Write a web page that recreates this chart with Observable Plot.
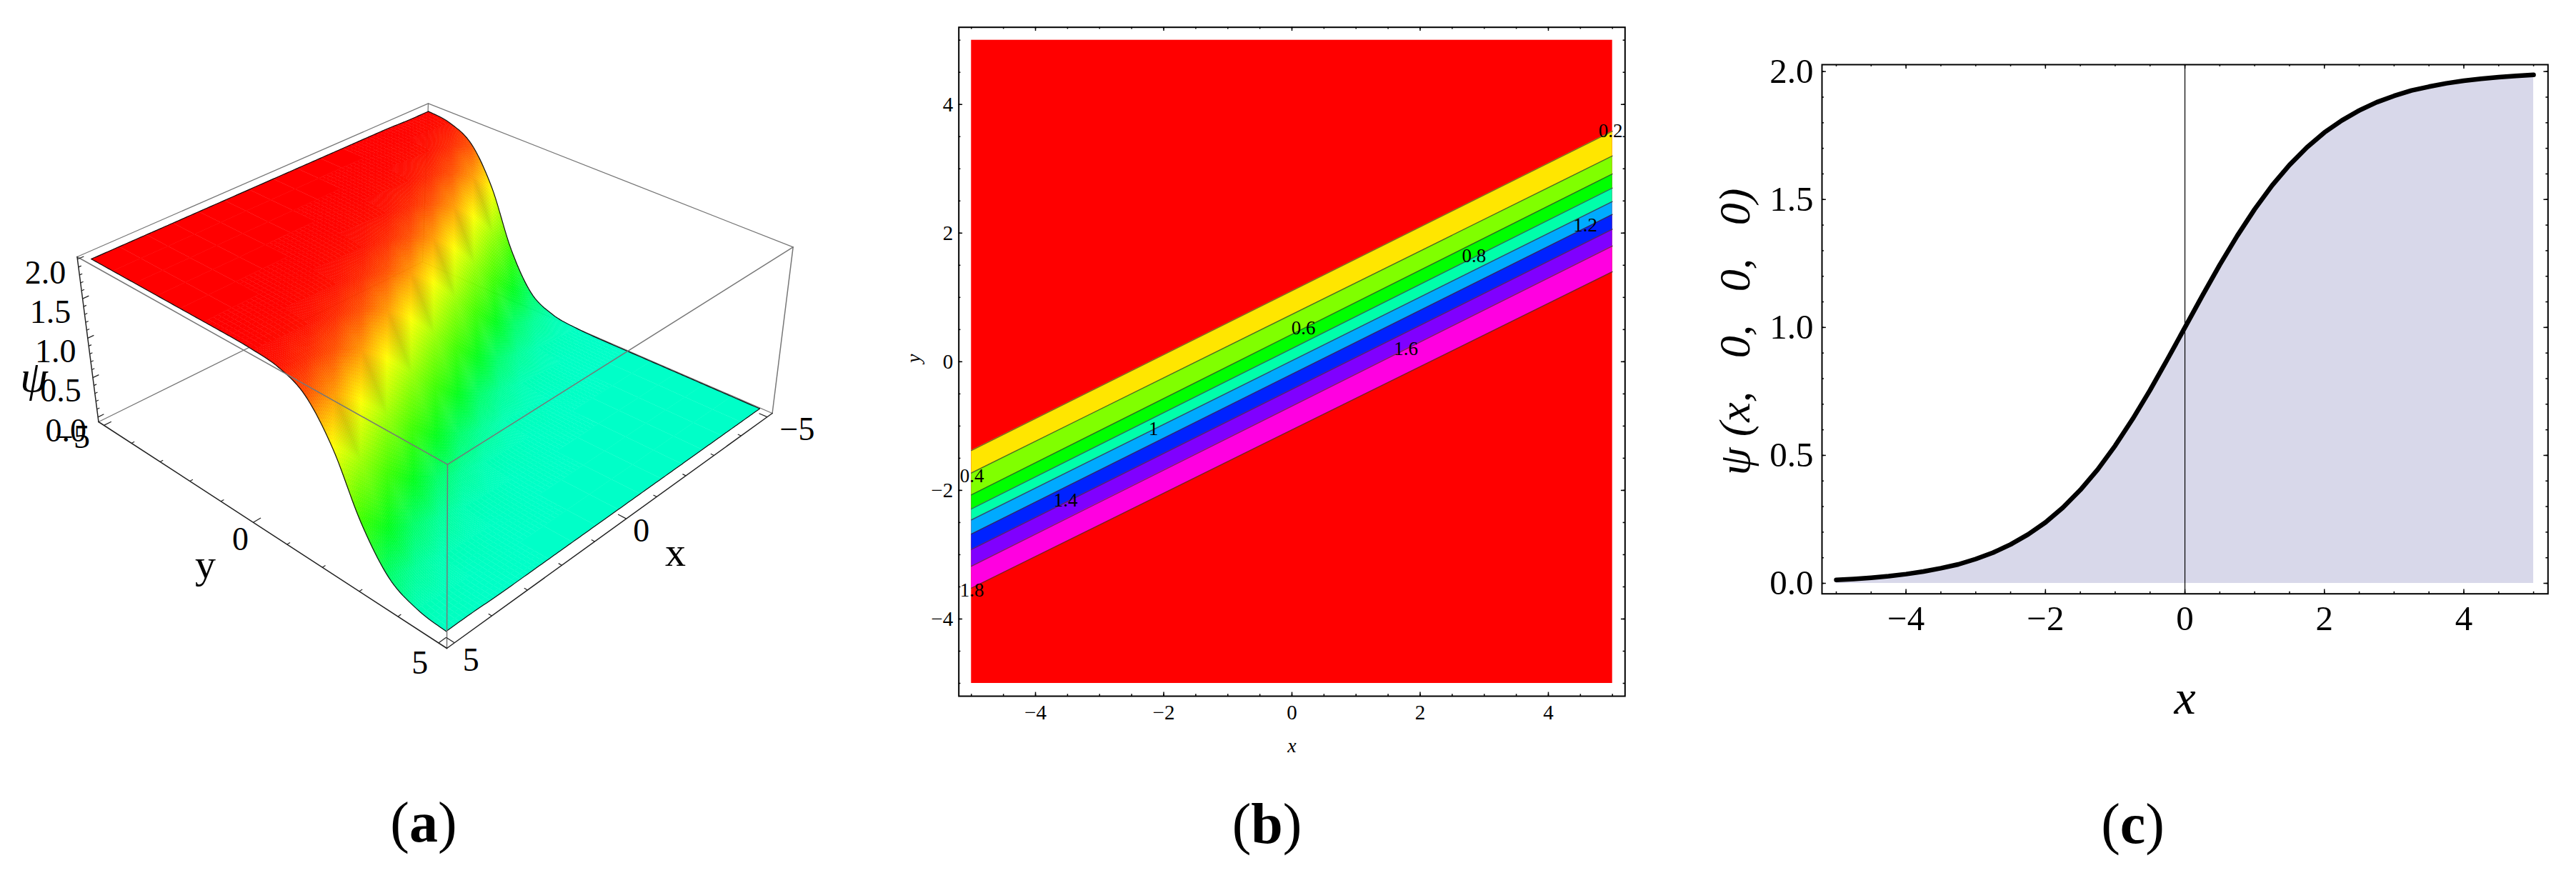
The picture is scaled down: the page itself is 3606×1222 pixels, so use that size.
<!DOCTYPE html>
<html><head><meta charset="utf-8">
<script src="https://cdn.jsdelivr.net/npm/d3@7"></script>
<script src="https://cdn.jsdelivr.net/npm/@observablehq/plot@0.6"></script>
<style>
html,body{margin:0;padding:0;background:#fff}
#page{position:relative;width:3606px;height:1222px;overflow:hidden;background:#fff}
.cap{position:absolute;font-family:"Liberation Serif",serif;font-size:80px;line-height:1;transform:translate(-50%,-50%);color:#000}
.cap b{font-weight:700}
</style></head><body><div id="page"></div>
<script>
const SERIF = "Liberation Serif";

// ---------- panel (a): surface heights, rows y = -5..5, columns x = -5..5 (15 x 15 mesh)
const surfaceX = d3.range(15).map(i => -5 + i * 10 / 14);
const surfaceY = d3.range(15).map(j => -5 + j * 10 / 14);
const surfacePsi = [
 [1.99,1.99,2,2,2,2,2,2,2,2,2,2,2,2,2],
 [1.95,1.97,1.99,1.99,2,2,2,2,2,2,2,2,2,2,2],
 [1.79,1.89,1.95,1.97,1.99,1.99,2,2,2,2,2,2,2,2,2],
 [1.34,1.61,1.79,1.89,1.95,1.97,1.99,1.99,2,2,2,2,2,2,2],
 [.66,1,1.34,1.61,1.79,1.89,1.95,1.97,1.99,1.99,2,2,2,2,2],
 [.21,.39,.66,1,1.34,1.61,1.79,1.89,1.95,1.97,1.99,1.99,2,2,2],
 [.05,.11,.21,.39,.66,1,1.34,1.61,1.79,1.89,1.95,1.97,1.99,1.99,2],
 [.01,.03,.05,.11,.21,.39,.66,1,1.34,1.61,1.79,1.89,1.95,1.97,1.99],
 [0,.01,.01,.03,.05,.11,.21,.39,.66,1,1.34,1.61,1.79,1.89,1.95],
 [0,0,0,.01,.01,.03,.05,.11,.21,.39,.66,1,1.34,1.61,1.79],
 [0,0,0,0,0,.01,.01,.03,.05,.11,.21,.39,.66,1,1.34],
 [0,0,0,0,0,0,0,.01,.01,.03,.05,.11,.21,.39,.66],
 [0,0,0,0,0,0,0,0,0,.01,.01,.03,.05,.11,.21],
 [0,0,0,0,0,0,0,0,0,0,0,.01,.01,.03,.05],
 [0,0,0,0,0,0,0,0,0,0,0,0,0,.01,.01]
];
const zTickLabels = [0, .5, 1, 1.5, 2];
const horizTickLabels = [-5, 0, 5];

// ---------- panel (b): contour levels and where each crosses x = -5 and x = 5
const levels   = [0.2, 0.4, 0.6, 0.8, 1, 1.2, 1.4, 1.6, 1.8];
const levelAtLeft  = [-1.38, -1.73, -2.07, -2.29, -2.46, -2.68, -2.92, -3.18, -3.52];
const levelAtRight = [3.585, 3.20, 2.92, 2.70, 2.49, 2.29, 2.06, 1.80, 1.40];
const bandColors = ["#ffe600", "#80ff00", "#00ff00", "#00ffaa", "#00aaff", "#0022ff", "#8000ff", "#ff00e0"];
const contourLabelText = ["0.2", "0.4", "0.6", "0.8", "1", "1.2", "1.4", "1.6", "1.8"];
const contourLabelX = [4.97, -4.99, 0.18, 2.84, -2.16, 4.575, -3.53, 1.78, -4.99];
const contourLabelY = [3.585, -1.78, 0.527, 1.64, -1.045, 2.117, -2.16, 0.2, -3.56];

// ---------- panel (c): profile along x
const profileX = [-5,-4.75,-4.5,-4.25,-4,-3.75,-3.5,-3.25,-3,-2.75,-2.5,-2.25,-2,-1.75,-1.5,-1.25,-1,-.75,-.5,-.25,0,
                  .25,.5,.75,1,1.25,1.5,1.75,2,2.25,2.5,2.75,3,3.25,3.5,3.75,4,4.25,4.5,4.75,5];
const profilePsi = [.013,.017,.022,.028,.036,.046,.059,.074,.095,.12,.152,.191,.238,.296,.365,.445,.538,.642,.755,.876,1,
                    1.124,1.245,1.358,1.462,1.555,1.635,1.704,1.762,1.809,1.848,1.880,1.905,1.926,1.941,1.954,1.964,1.972,1.978,1.983,1.987];

const page = document.getElementById("page");
function place(node, left, top) {
  node.style.position = "absolute"; node.style.left = left + "px"; node.style.top = top + "px";
  node.style.background = "transparent"; node.style.overflow = "visible"; page.appendChild(node);
}
function caption(html, x, y) {
  const d = document.createElement("div"); d.className = "cap"; d.innerHTML = html;
  d.style.left = x + "px"; d.style.top = y + "px"; page.appendChild(d);
}

// ---------- 3D projection for panel (a): corners of the box as drawn
const bottomQuad = [[591, 366], [137.5, 590], [625, 907], [1080.6, 578]]; // (x-,y-) (x+,y-) (x+,y+) (x-,y+)
const topQuad    = [[599, 144.4], [107.5, 359], [626, 649.6], [1109.7, 345.4]];
const boxMin = -5.2, boxMax = 5.2, zLo = -0.06, zHi = 2.03;
function homography(q) {
  const [[x0,y0],[x1,y1],[x2,y2],[x3,y3]] = q;
  const dx1=x1-x2, dx2=x3-x2, sx=x0-x1+x2-x3, dy1=y1-y2, dy2=y3-y2, sy=y0-y1+y2-y3;
  const den=dx1*dy2-dx2*dy1, g=(sx*dy2-dx2*sy)/den, h=(dx1*sy-sx*dy1)/den;
  const a=x1-x0+g*x1, b=x3-x0+h*x3, d=y1-y0+g*y1, e=y3-y0+h*y3;
  return (u,v)=>{const w=g*u+h*v+1; return [(a*u+b*v+x0)/w,(d*u+e*v+y0)/w];};
}
const hB = homography(bottomQuad), hT = homography(topQuad);
function project(x, y, z) {
  const u=(x-boxMin)/(boxMax-boxMin), v=(y-boxMin)/(boxMax-boxMin), t=(z-zLo)/(zHi-zLo);
  const b=hB(u,v), a=hT(u,v);
  return [b[0]+(a[0]-b[0])*t, b[1]+(a[1]-b[1])*t];
}
const hueScale = d3.scaleLinear().domain([0, 0.45, 1.34, 2]).range([0.464, 0.333, 0.167, 0]);
const hueOf = psi => d3.rgb(d3.hsl(360 * hueScale(psi), 1, 0.5));

// smooth rendering of the read surface between mesh points (geometry only)
const cr=(p0,p1,p2,p3,t)=>.5*((2*p1)+(p2-p0)*t+(2*p0-5*p1+4*p2-p3)*t*t+(3*p1-p0-3*p2+p3)*t*t*t);
const cl=(v)=>Math.max(0,Math.min(14,v));
function heightAt(fi,fj){
  const i=Math.min(13,Math.floor(fi)),j=Math.min(13,Math.floor(fj)),a=fi-i,b=fj-j;
  const row=r=>{const R=surfacePsi[cl(r)];return cr(R[cl(i-1)],R[i],R[i+1],R[cl(i+2)],a);};
  return Math.max(0,Math.min(2,cr(row(j-1),row(j),row(j+1),row(j+2),b)));
}
const at=(fi,fj)=>project(-5+fi*10/14,-5+fj*10/14,heightAt(fi,fj));

// surface cells, painted back to front, smooth-shaded per mesh triangle
const cells = [];
let cellId = 0;
const SUB = 14;
for (let j = 0; j < 14; j++) for (let i = 0; i < 14; i++) {
  const p00=surfacePsi[j][i], p10=surfacePsi[j][i+1], p01=surfacePsi[j+1][i], p11=surfacePsi[j+1][i+1];
  const c00=hueOf(p00), c10=hueOf(p10), c01=hueOf(p01), c11=hueOf(p11);
  const spread = Math.max(p00,p10,p01,p11)-Math.min(p00,p10,p01,p11);
  const n = spread === 0 ? 1 : spread < 0.1 ? 6 : SUB;
  for (let bi=0;bi<n;bi++) for (let ai=0;ai<n;ai++) {
    const a=(ai+.5)/n,b=(bi+.5)/n;
    const mix=k=> (a>=b)
      ? c00[k]+(c10[k]-c00[k])*a+(c11[k]-c10[k])*b
      : c00[k]+(c01[k]-c00[k])*b+(c11[k]-c01[k])*a;
    const col=`rgb(${Math.round(mix("r"))},${Math.round(mix("g"))},${Math.round(mix("b"))})`;
    const id=cellId++;
    for (const [da,db] of [[0,0],[1,0],[1,1],[0,1]]) {
      const [px,py]=at(i+(ai+da)/n,j+(bi+db)/n);
      cells.push({id,px,py,col});
    }
  }
}
const steps=d3.range(0,14.001,.1);
const surfaceEdges=[
  ...steps.map(t=>{const [px,py]=at(14,t);return {px,py,name:"front"};}),
  ...steps.map(t=>{const [px,py]=at(0,t);return {px,py,name:"back"};}),
  ...steps.map(t=>{const [px,py]=at(t,0);return {px,py,name:"top"};}),
  ...steps.map(t=>{const [px,py]=at(t,14);return {px,py,name:"low"};})
];
const corner = (q,i) => ({px:q[i][0],py:q[i][1]});
const seg = (a,b,name) => [{...a,name},{...b,name}];
const BL=corner(bottomQuad,1),BF=corner(bottomQuad,2),BR=corner(bottomQuad,3),BB=corner(bottomQuad,0);
const TL=corner(topQuad,1),TF=corner(topQuad,2),TR=corner(topQuad,3),TB=corner(topQuad,0);
const backEdges=[...seg(BL,BB,"a"),...seg(BB,BR,"b"),...seg(BB,TB,"c"),...seg(TL,TB,"d"),...seg(TB,TR,"e")];
const frontEdges=[...seg(TL,TF,"a"),...seg(TF,TR,"b"),...seg(TF,BF,"c"),...seg(TR,BR,"d")];
const axisEdges=[...seg(TL,BL,"z"),...seg(BL,BF,"y"),...seg(BF,BR,"x")];

const tick3d=[];
function addTick(p,q){const A=project(...p),B=project(...q);tick3d.push({x1:A[0],y1:A[1],x2:B[0],y2:B[1]});}
d3.range(0,2.01,.1).forEach(z=>{const m=Math.abs(z*2-Math.round(z*2))<1e-6;addTick([boxMax,boxMin,z],[boxMax-(m?.16:.07),boxMin,z]);});
d3.range(-5,5.01,1).forEach(t=>{const m=t%5===0,L=m?.2:.08;
  addTick([boxMax,t,zLo],[boxMax-L,t,zLo]);
  addTick([t,boxMax,zLo],[t,boxMax-L,zLo]);});

const zOff=[-45,19], yOff=[[-44,17],[-18,24],[-26,28]], xOff=[[42,18],[21,17],[23,25]];
const tickText=[];
zTickLabels.forEach(z=>{const [a,b]=project(boxMax,boxMin,z);tickText.push({px:a+zOff[0],py:b+zOff[1],t:d3.format(".1f")(z)});});
horizTickLabels.forEach((t,k)=>{let [a,b]=project(boxMax,t,zLo);tickText.push({px:a+yOff[k][0],py:b+yOff[k][1],t:d3.format("")(t)});
  [a,b]=project(t,boxMax,zLo);tickText.push({px:a+xOff[k][0],py:b+xOff[k][1],t:d3.format("")(t)});});
const axisTitles=[{px:287,py:790,t:"y"},{px:945,py:773,t:"x"}];
const psiTitle=[{px:47,py:528,t:"ψ"}];

const plotA = Plot.plot({
  width:1220,height:1000,margin:0,
  x:{domain:[0,1220],range:[0,1220],axis:null},
  y:{domain:[0,1000],range:[0,1000],axis:null},
  color:{type:"identity"},
  marks:[
    Plot.line(backEdges,{x:"px",y:"py",z:"name",stroke:"#777",strokeWidth:1.3}),
    Plot.line(cells,{x:"px",y:"py",z:"id",fill:"col",stroke:"col",strokeWidth:.6}),
    Plot.line(surfaceEdges,{x:"px",y:"py",z:"name",stroke:"#111",strokeWidth:1.2}),
    Plot.line(frontEdges,{x:"px",y:"py",z:"name",stroke:"#777",strokeWidth:1.5}),
    Plot.line(axisEdges,{x:"px",y:"py",z:"name",stroke:"#222",strokeWidth:1.5}),
    Plot.link(tick3d,{x1:"x1",y1:"y1",x2:"x2",y2:"y2",stroke:"#222",strokeWidth:1.2}),
    Plot.text(tickText,{x:"px",y:"py",text:"t",fontFamily:SERIF,fontSize:46,fill:"#000"}),
    Plot.text(axisTitles,{x:"px",y:"py",text:"t",fontFamily:SERIF,fontSize:58,fill:"#000"}),
    Plot.text(psiTitle,{x:"px",y:"py",text:"t",fontFamily:SERIF,fontSize:62,fontStyle:"italic",fill:"#000"})
  ]
});
place(plotA,0,0);

// ---------- tick helper (frame ticks drawn inward on all four sides)
function frameTicks(values,axis,lo,hi,len,w){
  return axis==="x"
    ?[Plot.ruleX(values,{y1:lo,y2:lo+len,stroke:"#000",strokeWidth:w}),Plot.ruleX(values,{y1:hi,y2:hi-len,stroke:"#000",strokeWidth:w})]
    :[Plot.ruleY(values,{x1:lo,x2:lo+len,stroke:"#000",strokeWidth:w}),Plot.ruleY(values,{x1:hi,x2:hi-len,stroke:"#000",strokeWidth:w})];
}

// ---------- panel (b)
const bandRows=[];
bandColors.forEach((c,k)=>{[[-5,levelAtLeft],[5,levelAtRight]].forEach(([x,arr])=>bandRows.push({x,y1:arr[k],y2:arr[k+1],c,k}));});
const contourRows=[];
levels.forEach((l,k)=>{contourRows.push({x:-5,y:levelAtLeft[k],l});contourRows.push({x:5,y:levelAtRight[k],l});});
const contourLabels=contourLabelText.map((t,i)=>({t,x:contourLabelX[i],y:contourLabelY[i]}));
const bX=[-5.196,5.196], bY=[-5.2,5.2];
const plotB = Plot.plot({
  width:1120,height:1080,
  marginLeft:121.7,marginRight:65.7,marginTop:37.7,marginBottom:106,
  x:{domain:bX,axis:null},y:{domain:bY,axis:null},
  color:{type:"identity"},
  style:{fontFamily:SERIF,color:"#000"},
  marks:[
    Plot.rect([{}],{x1:()=>-5,x2:()=>5,y1:()=>-5,y2:()=>5,fill:"#ff0000"}),
    Plot.areaY(bandRows,{x:"x",y1:"y1",y2:"y2",z:"k",fill:"c"}),
    Plot.line(contourRows,{x:"x",y:"y",z:"l",stroke:"#333",strokeWidth:1.3,strokeOpacity:.7}),
    Plot.text(contourLabels,{x:"x",y:"y",text:"t",fontFamily:SERIF,fontSize:27,fill:"#000"}),
    ...frameTicks(d3.range(-5,5.01,.5),"x",bY[0],bY[1],.03,1.5),
    ...frameTicks(d3.range(-5,5.01,.5),"y",bX[0],bX[1],.03,1.5),
    ...frameTicks([-4,-2,0,2,4],"x",bY[0],bY[1],.06,1.5),
    ...frameTicks([-4,-2,0,2,4],"y",bX[0],bX[1],.06,1.5),
    Plot.frame({stroke:"#000",strokeWidth:2}),
    Plot.axisX([-4,-2,0,2,4],{anchor:"bottom",tickSize:0,tickPadding:12,fontSize:29,label:null,tickFormat:"d",fontFamily:SERIF}),
    Plot.axisY([-4,-2,0,2,4],{anchor:"left",tickSize:0,tickPadding:8,fontSize:29,label:null,tickFormat:"d",fontFamily:SERIF}),
    Plot.text(["x"],{x:()=>0,y:()=>-5.97,text:d=>d,fontFamily:SERIF,fontStyle:"italic",fontSize:28,fill:"#000"}),
    Plot.text(["y"],{x:()=>-5.9,y:()=>0.05,text:d=>d,fontFamily:SERIF,fontStyle:"italic",fontSize:28,rotate:-90,fill:"#000"})
  ]
});
place(plotB,1220,0);

// ---------- panel (c)
const profile=profileX.map((x,i)=>({x,psi:profilePsi[i]}));
const cX=[-5.205,5.207], cY=[-0.041,2.027];
const plotC = Plot.plot({
  width:1246,height:1080,
  marginLeft:190,marginRight:39.7,marginTop:90,marginBottom:249.3,
  x:{domain:cX,axis:null},y:{domain:cY,axis:null},
  style:{fontFamily:SERIF,color:"#000"},
  marks:[
    Plot.areaY(profile,{x:"x",y:"psi",fill:"#d8d8ea"}),
    Plot.ruleX([0],{stroke:"#000",strokeWidth:1.2}),
    Plot.line(profile,{x:"x",y:"psi",stroke:"#000",strokeWidth:6.5}),
    ...frameTicks(d3.range(-5,5.01,.5),"x",cY[0],cY[1],.008,1.5),
    ...frameTicks(d3.range(0,2.01,.1),"y",cX[0],cX[1],.03,1.5),
    ...frameTicks([-4,-2,0,2,4],"x",cY[0],cY[1],.017,1.5),
    ...frameTicks([0,.5,1,1.5,2],"y",cX[0],cX[1],.06,1.5),
    Plot.frame({stroke:"#000",strokeWidth:2}),
    Plot.axisX([-4,-2,0,2,4],{anchor:"bottom",tickSize:0,tickPadding:16,fontSize:49,label:null,fontFamily:SERIF}),
    Plot.axisY([0,.5,1,1.5,2],{anchor:"left",tickSize:0,tickPadding:12,fontSize:49,label:null,tickFormat:".1f",fontFamily:SERIF}),
    Plot.text(["x"],{x:()=>0,y:()=>-.45,text:d=>d,fontFamily:SERIF,fontStyle:"italic",fontSize:68,fill:"#000"}),
    Plot.text(["ψ (x,\u2002 0,\u2002 0,\u2002 0)"],{x:()=>-6.45,y:()=>.983,text:d=>d,fontFamily:SERIF,fontStyle:"italic",fontSize:62,rotate:-90,fill:"#000"})
  ]
});
place(plotC,2360,0);

caption("(<b>a</b>)",593,1151);
caption("(<b>b</b>)",1773.6,1153);
caption("(<b>c</b>)",2985.6,1153);
</script></body></html>
